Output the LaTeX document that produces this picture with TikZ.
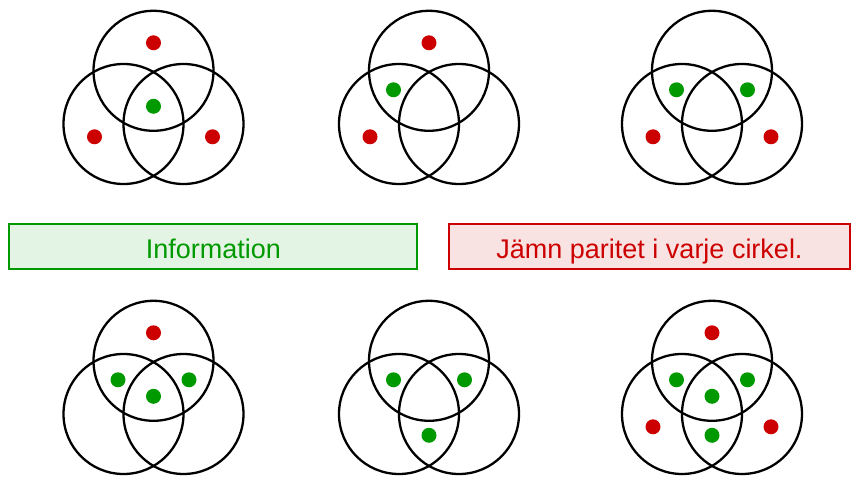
\documentclass[tikz,border=0pt]{standalone}
\usepackage{fontspec}
\setmainfont{Liberation Sans}
\definecolor{dred}{RGB}{204,0,0}
\definecolor{dgreen}{RGB}{0,153,0}
\definecolor{lgreen}{RGB}{228,244,228}
\definecolor{lred}{RGB}{249,226,226}
\newcommand\venndiag[2]{%
  \begin{scope}[shift={#2}]
    \draw[ring] (0,-35.5) circle[radius=60];
    \draw[ring] (-30,17.7) circle[radius=60];
    \draw[ring] (30,17.7) circle[radius=60];
    \coordinate (#1T) at (0,-63.5);
    \coordinate (#1L) at (-59,30.5);
    \coordinate (#1R) at (59,30.5);
    \coordinate (#1A) at (-35.5,-16.5);
    \coordinate (#1B) at (35.5,-16.5);
    \coordinate (#1D) at (0,39);
    \coordinate (#1C) at (0,0);
  \end{scope}}
\begin{document}
\begin{tikzpicture}[x=1pt,y=-1pt,
  ring/.style={draw=black,line width=2.3pt},
  rdot/.style={fill=dred},
  gdot/.style={fill=dgreen},
  labelbox/.style={line width=2pt,minimum height=44.7pt,text height=23.5pt,text depth=0pt,inner sep=0pt,font=\fontsize{27}{32}\selectfont},
  infobox/.style={labelbox,draw=dgreen,fill=lgreen,text=dgreen,minimum width=408pt},
  paritybox/.style={labelbox,draw=dred,fill=lred,text=dred,minimum width=400.4pt}
]
\useasboundingbox (0,0) rectangle (854,486);

\venndiag{a}{(153.5,106.3)}
\venndiag{b}{(429,106.3)}
\venndiag{c}{(712,106.3)}
\venndiag{d}{(153.5,396.3)}
\venndiag{e}{(429,396.3)}
\venndiag{f}{(712,396.3)}

% diagram a
\fill[rdot] (aT) circle[radius=7.5];
\fill[rdot] (aL) circle[radius=7.5];
\fill[rdot] (aR) circle[radius=7.5];
\fill[gdot] (aC) circle[radius=7.5];
% diagram b
\fill[rdot] (bT) circle[radius=7.5];
\fill[rdot] (bL) circle[radius=7.5];
\fill[gdot] (bA) circle[radius=7.5];
% diagram c
\fill[rdot] (cL) circle[radius=7.5];
\fill[rdot] (cR) circle[radius=7.5];
\fill[gdot] (cA) circle[radius=7.5];
\fill[gdot] (cB) circle[radius=7.5];
% diagram d
\fill[rdot] (dT) circle[radius=7.5];
\fill[gdot] (dA) circle[radius=7.5];
\fill[gdot] (dB) circle[radius=7.5];
\fill[gdot] (dC) circle[radius=7.5];
% diagram e
\fill[gdot] (eA) circle[radius=7.5];
\fill[gdot] (eB) circle[radius=7.5];
\fill[gdot] (eD) circle[radius=7.5];
% diagram f
\fill[rdot] (fT) circle[radius=7.5];
\fill[rdot] (fL) circle[radius=7.5];
\fill[rdot] (fR) circle[radius=7.5];
\fill[gdot] (fA) circle[radius=7.5];
\fill[gdot] (fB) circle[radius=7.5];
\fill[gdot] (fC) circle[radius=7.5];
\fill[gdot] (fD) circle[radius=7.5];

\node[infobox] (info) at (213.3,246.65) {Information};
\node[paritybox] (parity) at (649.5,246.65) {Jämn paritet i varje cirkel.};
\end{tikzpicture}
\end{document}
